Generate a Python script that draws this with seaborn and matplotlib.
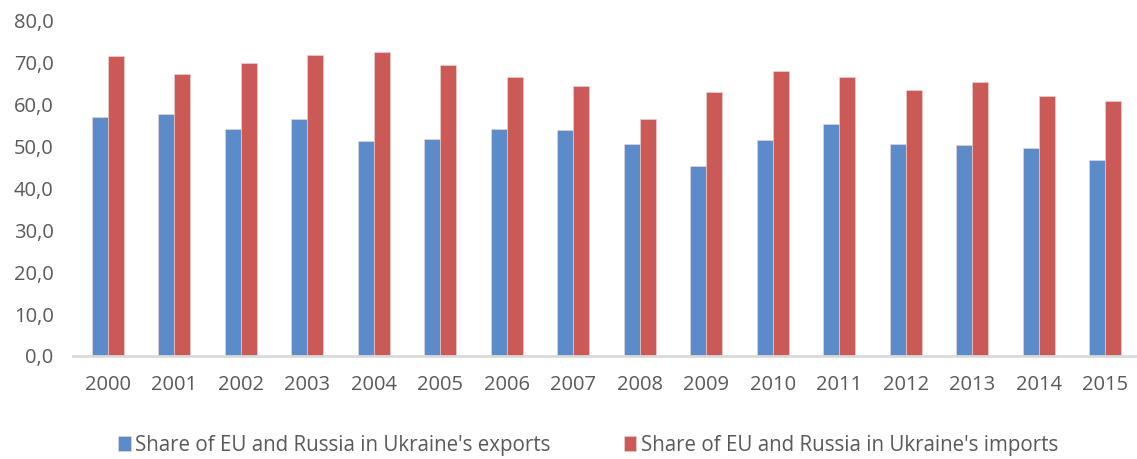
import matplotlib
matplotlib.use("Agg")
import matplotlib.pyplot as plt
import seaborn as sns
import pandas as pd
from matplotlib.ticker import FuncFormatter, MultipleLocator

years = [str(y) for y in range(2000, 2016)]
exports = [57.0, 57.6, 54.0, 56.4, 51.3, 51.8, 54.0, 53.9, 50.5, 45.3,
           51.4, 55.2, 50.5, 50.2, 49.6, 46.7]
imports = [71.6, 67.2, 69.8, 71.7, 72.5, 69.3, 66.6, 64.4, 56.5, 63.0,
           67.9, 66.4, 63.3, 65.2, 61.9, 60.8]
series_names = ["Share of EU and Russia in Ukraine's exports",
                "Share of EU and Russia in Ukraine's imports"]
colors = ["#5B8BC8", "#CB5A57"]

df = pd.DataFrame({
    "year": years * 2,
    "value": exports + imports,
    "series": [series_names[0]] * len(years) + [series_names[1]] * len(years),
})

sns.set_theme(style="white")
plt.rcParams["font.family"] = ["Open Sans", "DejaVu Sans"]

fig = plt.figure(figsize=(11.37, 4.59), dpi=100)
ax = fig.add_axes([73 / 1137, 1 - 356 / 459, 1 - 73 / 1137, 335.6 / 459])

sns.barplot(data=df, x="year", y="value", hue="series", palette=colors,
            width=0.48, gap=0, ax=ax, edgecolor="#F0D8D8", linewidth=0.4,
            saturation=1)

ax.set_ylim(0, 80)
ax.set_xlim(-0.52, 15.48)
ax.yaxis.set_major_locator(MultipleLocator(10))
ax.yaxis.set_major_formatter(FuncFormatter(lambda v, p: f"{v:.1f}".replace(".", ",")))
ax.set_xlabel("")
ax.set_ylabel("")
for s in ["left", "right", "top"]:
    ax.spines[s].set_visible(False)
ax.spines["bottom"].set_color("#D9D9D9")
ax.spines["bottom"].set_linewidth(2)
ax.tick_params(axis="both", length=0, labelsize=14.5, colors="#595959")
ax.tick_params(axis="x", pad=14)
ax.tick_params(axis="y", pad=14)

ax.get_legend().remove()
handles, labels = ax.get_legend_handles_labels()
fig.legend(handles, labels, loc="center", bbox_to_anchor=(588 / 1137, 1 - 445 / 459),
           ncol=2, frameon=False, fontsize=14.8, handlelength=0.6, handleheight=0.75,
           handletextpad=0.2, columnspacing=3.6, labelcolor="#595959")

fig.savefig("out.png", dpi=100)
